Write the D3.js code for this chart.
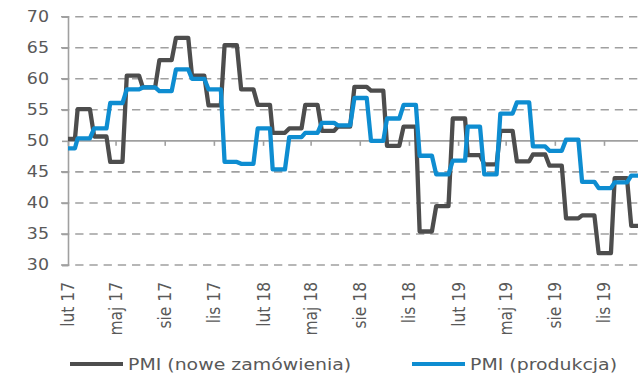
<!DOCTYPE html>
<html>
<head>
<meta charset="utf-8">
<script src="https://cdn.jsdelivr.net/npm/d3@7"></script>
<style>
  body { margin: 0; background: #fff; }
  svg { display: block; }
  text { font-family: "DejaVu Sans", Verdana, sans-serif; fill: #595959; }
</style>
</head>
<body>
<svg id="chart" width="638" height="374"></svg>
<script>
// Monthly PMI readings, Feb 2017 – Jan 2020
const months = [
  "2017-02","2017-03","2017-04","2017-05","2017-06","2017-07","2017-08","2017-09","2017-10","2017-11","2017-12",
  "2018-01","2018-02","2018-03","2018-04","2018-05","2018-06","2018-07","2018-08","2018-09","2018-10","2018-11","2018-12",
  "2019-01","2019-02","2019-03","2019-04","2019-05","2019-06","2019-07","2019-08","2019-09","2019-10","2019-11","2019-12",
  "2020-01"
];
const noweZamowienia = [
  50.3, 55.1, 50.7, 46.6, 60.5, 58.6, 63.0, 66.6, 60.5, 55.7, 65.4,
  58.3, 55.8, 51.3, 52.0, 55.8, 51.6, 52.3, 58.7, 58.1, 49.2, 52.3, 35.4,
  39.5, 53.6, 47.7, 46.2, 51.6, 46.7, 47.8, 46.0, 37.5, 38.0, 31.9, 44.0,
  36.3
];
const produkcja = [
  48.8, 50.4, 52.0, 56.1, 58.3, 58.6, 58.0, 61.5, 60.0, 58.3, 46.6,
  46.3, 52.0, 45.4, 50.6, 51.3, 52.9, 52.5, 56.9, 50.0, 53.6, 55.8, 47.6,
  44.6, 46.8, 52.3, 44.6, 54.4, 56.2, 49.1, 48.4, 50.2, 43.4, 42.4, 43.3,
  44.4
];
const tickMonths = ["2017-02","2017-05","2017-08","2017-11","2018-02","2018-05",
                    "2018-08","2018-11","2019-02","2019-05","2019-08","2019-11"];
const tickLabels = ["lut 17","maj 17","sie 17","lis 17","lut 18","maj 18",
                    "sie 18","lis 18","lut 19","maj 19","sie 19","lis 19"];
const yTicks = [30, 35, 40, 45, 50, 55, 60, 65, 70];
const seriesNames = ["PMI (nowe zamówienia)", "PMI (produkcja)"];
const seriesColors = ["#4d4d4d", "#0e8dd1"];

const parse = d3.timeParse("%Y-%m");
const svg = d3.select("#chart");
const plotLeft = 68, plotRight = 638, plotTop = 16.7, plotBottom = 265;
const textStretch = 1.16; // all labels are set a little wide

const x = d3.scaleTime()
  .domain([parse("2017-02"), parse("2019-11")])
  .range([68, 604]);
const y = d3.scaleLinear().domain([30, 70]).range([plotBottom, plotTop]);

// dashed horizontal gridlines
svg.append("g").selectAll("line")
  .data(yTicks.filter(v => v !== 50))
  .join("line")
  .attr("x1", 61).attr("x2", plotRight)
  .attr("y1", d => y(d)).attr("y2", d => y(d))
  .attr("stroke", "#a0a0a0").attr("stroke-width", 1.6)
  .attr("stroke-dasharray", "8.3,5.9");

// y axis line with ticks and labels
const yAxis = d3.axisLeft(y).tickValues(yTicks).tickSize(6).tickPadding(13);
const gy = svg.append("g").attr("transform", `translate(${plotLeft},0)`).call(yAxis);
gy.select(".domain").attr("stroke", "#a0a0a0").attr("stroke-width", 1.6);
gy.selectAll(".tick line").attr("stroke", "#a0a0a0").attr("stroke-width", 1.6);
gy.selectAll(".tick text")
  .attr("x", 0)
  .attr("transform", `translate(-19,0) scale(${textStretch},1)`)
  .attr("font-size", 15).attr("fill", "#595959")
  .style("font-family", '"DejaVu Sans", Verdana, sans-serif');

// x axis crosses at 50
const xAxis = d3.axisBottom(x).tickValues(tickMonths.map(parse)).tickSize(5).tickFormat("");
const gx = svg.append("g").attr("transform", `translate(0,${y(50)})`).call(xAxis);
gx.select(".domain").attr("stroke", "#a0a0a0").attr("stroke-width", 1.6)
  .attr("d", `M${plotLeft},0H${plotRight}`);
gx.selectAll(".tick line").attr("stroke", "#a0a0a0").attr("stroke-width", 1.6);

// month labels at the bottom, rotated
svg.append("g").selectAll("text")
  .data(tickMonths)
  .join("text")
  .attr("transform", d => `translate(${x(parse(d))},282) scale(${textStretch},1) rotate(-90)`)
  .attr("text-anchor", "end")
  .attr("dy", "0.36em")
  .attr("font-size", 15.5)
  .text((d, i) => tickLabels[i]);

// step-like series: each month is a flat run with a short ramp to the next
svg.append("defs").append("clipPath").attr("id", "plotClip")
  .append("rect").attr("x", plotLeft).attr("y", 0)
  .attr("width", plotRight - plotLeft).attr("height", 300);

const line = d3.line().x(d => x(d[0])).y(d => y(d[1]));
function stepPoints(values) {
  const pts = [];
  months.forEach((m, i) => {
    const d = parse(m);
    pts.push([d3.timeDay.offset(d, -10), values[i]]);
    pts.push([d3.timeDay.offset(d, 13), values[i]]);
  });
  return pts;
}

const gLines = svg.append("g").attr("clip-path", "url(#plotClip)");
[noweZamowienia, produkcja].forEach((vals, k) => {
  gLines.append("path")
    .attr("d", line(stepPoints(vals)))
    .attr("fill", "none")
    .attr("stroke", seriesColors[k])
    .attr("stroke-width", 4.3)
    .attr("stroke-linejoin", "round");
});

// legend
const legendX = [70, 412];
const lg = svg.append("g").selectAll("g").data(seriesNames).join("g")
  .attr("transform", (d, i) => `translate(${legendX[i]},364)`);
lg.append("line").attr("x1", 0).attr("x2", 53)
  .attr("stroke", (d, i) => seriesColors[i]).attr("stroke-width", 4);
lg.append("text")
  .attr("transform", `translate(58,0) scale(${textStretch},1)`)
  .attr("dy", "0.36em").attr("font-size", 16.3)
  .text(d => d);
</script>
</body>
</html>
